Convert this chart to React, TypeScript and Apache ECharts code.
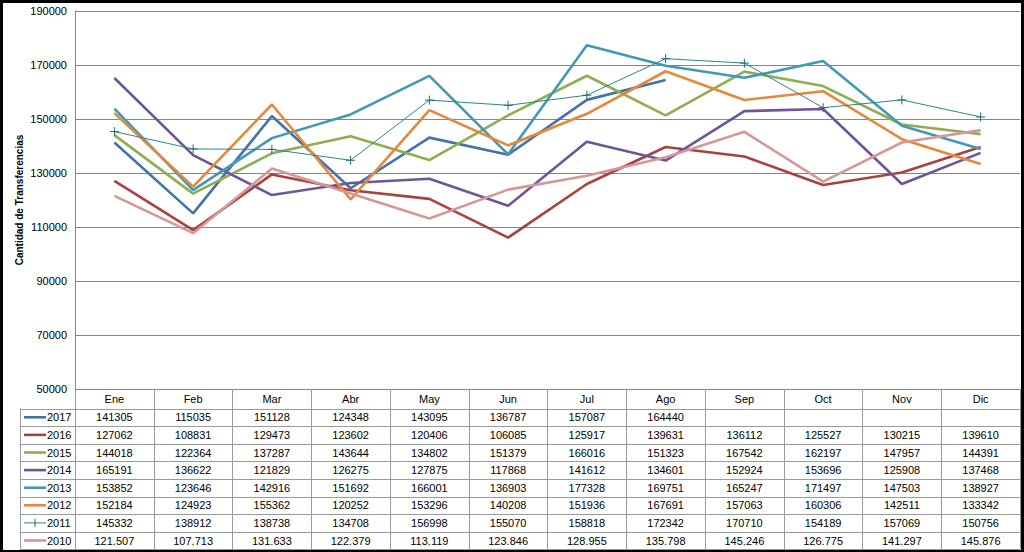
import React, { useEffect, useRef } from "react";
import * as echarts from "echarts";

const months = ["Ene", "Feb", "Mar", "Abr", "May", "Jun", "Jul", "Ago", "Sep", "Oct", "Nov", "Dic"];
const years = ["2017", "2016", "2015", "2014", "2013", "2012", "2011", "2010"];
const v2017 = [141305, 115035, 151128, 124348, 143095, 136787, 157087, 164440, null, null, null, null];
const v2016 = [127062, 108831, 129473, 123602, 120406, 106085, 125917, 139631, 136112, 125527, 130215, 139610];
const v2015 = [144018, 122364, 137287, 143644, 134802, 151379, 166016, 151323, 167542, 162197, 147957, 144391];
const v2014 = [165191, 136622, 121829, 126275, 127875, 117868, 141612, 134601, 152924, 153696, 125908, 137468];
const v2013 = [153852, 123646, 142916, 151692, 166001, 136903, 177328, 169751, 165247, 171497, 147503, 138927];
const v2012 = [152184, 124923, 155362, 120252, 153296, 140208, 151936, 167691, 157063, 160306, 142511, 133342];
const v2011 = [145332, 138912, 138738, 134708, 156998, 155070, 158818, 172342, 170710, 154189, 157069, 150756];
const v2010 = [121507, 107713, 131633, 122379, 113119, 123846, 128955, 135798, 145246, 126775, 141297, 145876];
const seriesValues = [v2017, v2016, v2015, v2014, v2013, v2012, v2011, v2010];
const yTicks = { min: 50000, max: 190000, interval: 20000 };

const colors = ["#4672AB", "#A9423F", "#8EAE50", "#6F5596", "#4199B3", "#E6883C", "#2F8585", "#D59896"];
const FONT = "Liberation Sans";
const PLUS = "path://M5,0L5,10M0,5L10,5";

function fmt(year: string, v: number | null): string {
  if (v === null || v === undefined) return "";
  if (year === "2010") return String(v).replace(/\B(?=(\d{3})+(?!\d))/g, ".");
  return String(v);
}

export default function App() {
  const ref = useRef<HTMLDivElement>(null);
  useEffect(() => {
    if (!ref.current) return;
    const chart = echarts.init(ref.current, null, { renderer: "svg" });
    const gridLeft = 75;
    const gridRight = 4;
    const gridTop = 11;
    const gridBottom = 163;
    chart.setOption({
      animation: false,
      backgroundColor: "#ffffff",
      grid: { left: gridLeft, right: gridRight, top: gridTop, bottom: gridBottom, containLabel: false },
      xAxis: {
        type: "category",
        data: months,
        boundaryGap: true,
        axisLine: { show: true, lineStyle: { color: "#868686", width: 1 } },
        axisTick: { show: true, interval: 0, length: 160, lineStyle: { color: "#9a9a9a", width: 1 } },
        axisLabel: { interval: 0, margin: 4, color: "#000", fontFamily: FONT, fontSize: 11 },
      },
      yAxis: {
        type: "value",
        min: yTicks.min,
        max: yTicks.max,
        interval: yTicks.interval,
        name: "Cantidad de Transferencias",
        nameLocation: "middle",
        nameGap: 51,
        nameMoveOverlap: false,
        nameTextStyle: { fontFamily: FONT, fontSize: 10, fontWeight: "bold", color: "#000" },
        axisLine: { show: true, lineStyle: { color: "#868686" } },
        axisTick: { show: false },
        axisLabel: { margin: 8, color: "#000", fontFamily: FONT, fontSize: 11, formatter: (v: number) => String(v) },
        splitLine: { show: true, lineStyle: { color: "#868686", width: 1 } },
      },
      series: years.map((y, i) => ({
        name: y,
        type: "line",
        data: seriesValues[i],
        connectNulls: false,
        symbol: y === "2011" ? PLUS : "none",
        symbolSize: 9,
        showSymbol: y === "2011",
        itemStyle: y === "2011" ? { color: "rgba(0,0,0,0)", borderColor: "#1F6B6B", borderWidth: 1 } : { color: colors[i] },
        lineStyle: { color: colors[i], width: y === "2011" ? 1 : 2.6 },
        z: 2 + i,
      })),
    });

    const graphics: any[] = [];
    const tableLeft = 20;
    const tableRight = 1020;
    const headerBottom = 408.5;
    const rowH = 17.6;
    for (let k = 0; k <= years.length; k++) {
      const yy = Math.round(headerBottom + k * rowH) + 0.5;
      graphics.push({
        type: "line",
        shape: { x1: tableLeft, y1: yy, x2: tableRight, y2: yy },
        style: { stroke: "#9a9a9a", lineWidth: 1 },
        silent: true,
      });
    }
    graphics.push({
      type: "line",
      shape: { x1: tableLeft + 0.5, y1: headerBottom, x2: tableLeft + 0.5, y2: headerBottom + years.length * rowH },
      style: { stroke: "#9a9a9a", lineWidth: 1 },
      silent: true,
    });
    years.forEach((y, i) => {
      const cy = headerBottom + (i + 0.5) * rowH;
      graphics.push({
        type: "line",
        shape: { x1: 24, y1: cy, x2: 46, y2: cy },
        style: { stroke: colors[i], lineWidth: y === "2011" ? 1 : 2.6 },
        silent: true,
      });
      if (y === "2011") {
        graphics.push({
          type: "line",
          shape: { x1: 35, y1: cy - 4, x2: 35, y2: cy + 4 },
          style: { stroke: "#1F6B6B", lineWidth: 1 },
          silent: true,
        });
      }
      graphics.push({
        type: "text",
        x: 47,
        y: cy,
        style: { text: y, fontFamily: FONT, fontSize: 11, fill: "#000", textVerticalAlign: "middle", textAlign: "left" },
        silent: true,
      });
      months.forEach((m, j) => {
        const px = chart.convertToPixel({ xAxisIndex: 0 }, m) as number;
        const t = fmt(y, seriesValues[i][j] as any);
        if (!t) return;
        graphics.push({
          type: "text",
          x: px,
          y: cy,
          style: { text: t, fontFamily: FONT, fontSize: 11, fill: "#000", textAlign: "center", textVerticalAlign: "middle" },
          silent: true,
        });
      });
    });
    graphics.push({ type: "rect", shape: { x: 0, y: 0, width: 1024, height: 3 }, style: { fill: "#000" }, silent: true, z: 100 });
    graphics.push({ type: "rect", shape: { x: 0, y: 0, width: 3, height: 552 }, style: { fill: "#000" }, silent: true, z: 100 });
    graphics.push({ type: "rect", shape: { x: 1021, y: 0, width: 3, height: 552 }, style: { fill: "#000" }, silent: true, z: 100 });
    graphics.push({ type: "rect", shape: { x: 0, y: 550, width: 1024, height: 2 }, style: { fill: "#000" }, silent: true, z: 100 });

    chart.setOption({ graphic: graphics });
    return () => chart.dispose();
  }, []);
  return <div ref={ref} style={{ position: "fixed", left: 0, top: 0, width: 1024, height: 552 }} />;
}
